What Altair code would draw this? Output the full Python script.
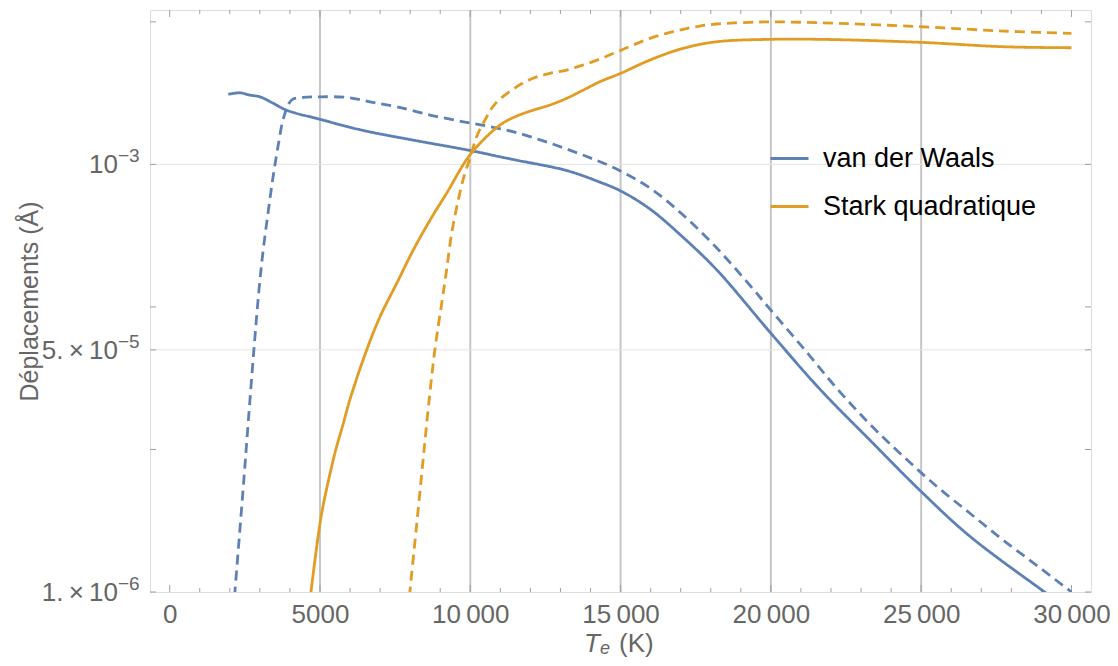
import altair as alt
import pandas as pd

# ---------------- data ----------------
SERIES = ["van der Waals", "Stark quadratique"]
KINDS = ["plein", "tirets"]

# van der Waals, solid
VDW_SOLID_T = [1950, 2340, 2670, 3000, 3450, 3890, 5000, 6440, 8100, 10010, 10990,
               11540, 13210, 14310, 15010, 15980, 17070, 18210, 19970, 21630, 23300,
               24990, 26620, 29120, 30000]
VDW_SOLID_V = [3.10e-3, 3.18e-3, 3.06e-3, 2.98e-3, 2.68e-3, 2.40e-3, 2.07e-3, 1.73e-3,
               1.48e-3, 1.25e-3, 1.13e-3, 1.07e-3, 9.05e-4, 7.51e-4, 6.50e-4, 4.86e-4,
               3.09e-4, 1.81e-4, 6.65e-5, 2.65e-5, 1.16e-5, 5.09e-6, 2.46e-6, 9.95e-7,
               7.32e-7]

# van der Waals, dashed
VDW_DASH_T = [2120, 2170, 2440, 2610, 2800, 2970, 3110, 3270, 3440, 3620, 3800, 4060,
              4440, 5000, 5890, 6660, 7550, 8660, 9770, 10650, 11540, 12650, 13760,
              14870, 15980, 17080, 18200, 19300, 19970, 21080, 22190, 23300, 24400,
              25510, 26620, 27730, 28840, 30000]
VDW_DASH_V = [7.20e-7, 1.00e-6, 5.18e-6, 1.52e-5, 4.97e-5, 1.31e-4, 2.50e-4, 4.53e-4,
              8.18e-4, 1.40e-3, 2.16e-3, 2.83e-3, 2.95e-3, 2.98e-3, 2.95e-3, 2.75e-3,
              2.54e-3, 2.22e-3, 1.99e-3, 1.84e-3, 1.67e-3, 1.41e-3, 1.16e-3, 9.27e-4,
              6.82e-4, 4.41e-4, 2.59e-4, 1.42e-4, 9.65e-5, 5.14e-5, 2.69e-5, 1.50e-5,
              8.97e-6, 5.52e-6, 3.57e-6, 2.31e-6, 1.54e-6, 1.00e-6]

# Stark quadratique, solid
STARK_SOLID_T = [4630, 4700, 5000, 5140, 5360, 5520, 5760, 5990, 6550, 6995, 7550, 8100,
                 8660, 9210, 10010, 10990, 11540, 12090, 12650, 13210, 13760, 14310,
                 15000, 15980, 17080, 18200, 19970, 21630, 24990, 27730, 30000]
STARK_SOLID_V = [7.20e-7, 1.00e-6, 3.02e-6, 4.40e-6, 7.15e-6, 9.88e-6, 1.48e-5, 2.22e-5,
                 4.97e-5, 8.52e-5, 1.46e-4, 2.50e-4, 4.06e-4, 6.26e-4, 1.18e-3, 1.89e-3,
                 2.18e-3, 2.40e-3, 2.61e-3, 2.91e-3, 3.32e-3, 3.80e-3, 4.35e-3, 5.40e-3,
                 6.52e-3, 7.25e-3, 7.54e-3, 7.54e-3, 7.18e-3, 6.69e-3, 6.58e-3]

# Stark quadratique, dashed
STARK_DASH_T = [7930, 7990, 8220, 8440, 8550, 8820, 9050, 9210, 9380, 9600, 9820, 9970,
                10210, 10490, 10820, 11540, 12090, 12650, 13210, 13760, 14310, 14870,
                15420, 15980, 16530, 17080, 17640, 18200, 19300, 19970, 21630, 24990,
                27730, 30000]
STARK_DASH_V = [7.20e-7, 1.00e-6, 3.02e-6, 8.86e-6, 1.52e-5, 4.97e-5, 1.06e-4, 1.81e-4,
                3.28e-4, 5.62e-4, 8.65e-4, 1.07e-3, 1.56e-3, 2.05e-3, 2.65e-3, 3.50e-3,
                4.02e-3, 4.35e-3, 4.59e-3, 4.98e-3, 5.48e-3, 6.14e-3, 6.88e-3, 7.66e-3,
                8.31e-3, 8.86e-3, 9.35e-3, 9.66e-3, 9.92e-3, 1.00e-2, 9.86e-3, 9.24e-3,
                8.62e-3, 8.31e-3]

X_TICKS = [0, 5000, 10000, 15000, 20000, 25000, 30000]
X_MINOR = [1000, 2000, 3000, 4000, 6000, 7000, 8000, 9000, 11000, 12000, 13000, 14000,
           16000, 17000, 18000, 19000, 21000, 22000, 23000, 24000, 26000, 27000, 28000,
           29000]
X_GRID = [5000, 10000, 15000, 20000, 25000]
Y_TICKS = [1e-2, 1e-3, 1e-4, 5e-5, 1e-5, 1e-6]
Y_GRID = [1e-3, 5e-5]
Y_LABEL_V = [1e-6, 5e-5, 1e-3]
Y_LABEL_BASE = ["1.\u2009×\u200910", "5.\u2009×\u200910", "10"]
Y_LABEL_EXP = ["\u22126", "\u22125", "\u22123"]

# ---------------- styling ----------------
BLUE = "#5E81B5"
ORANGE = "#E19C24"
GRAY_TXT = "#666666"
FRAME = "#a0a0a0"
FONT = "Liberation Sans"
W, H = 941, 582

rows = []
for serie, kind, ts, vs in [
    (SERIES[0], KINDS[0], VDW_SOLID_T, VDW_SOLID_V),
    (SERIES[0], KINDS[1], VDW_DASH_T, VDW_DASH_V),
    (SERIES[1], KINDS[0], STARK_SOLID_T, STARK_SOLID_V),
    (SERIES[1], KINDS[1], STARK_DASH_T, STARK_DASH_V),
]:
    for t, v in zip(ts, vs):
        rows.append({"serie": serie, "kind": kind, "T": t, "v": v})
df = pd.DataFrame(rows)

xscale = alt.Scale(domain=[-655, 30650], nice=False, zero=False)
yscale = alt.Scale(type="log", domain=[1e-6, 0.01211], nice=False)

ts_ = "\u2009"
x_label_expr = (
    "datum.value < 10000 ? format(datum.value, 'd') : "
    "format(floor(datum.value / 1000), 'd') + '" + ts_ + "000'"
)

X_AXIS = alt.Axis(
    values=X_TICKS, labelExpr=x_label_expr, ticks=False, domain=False, grid=False,
    labelFontSize=26, labelColor=GRAY_TXT, labelFont=FONT, labelPadding=9, title=None,
)
Y_AXIS = alt.Axis(
    labels=False, ticks=False, domain=False, grid=False,
    title="Déplacements (Å)", titleFontSize=25, titleFont=FONT,
    titleColor=GRAY_TXT, titleFontWeight="normal",
    titleX=-121, titleY=H / 2, titleAlign="center", titleBaseline="middle",
)


def X(field="T:Q"):
    return alt.X(field, scale=xscale, axis=X_AXIS)


def Y(field="v:Q"):
    return alt.Y(field, scale=yscale, axis=Y_AXIS)


vgrid = alt.Chart(pd.DataFrame({"T": X_GRID})).mark_rule(
    color="#c6c6c6", strokeWidth=2
).encode(x=X())

hgrid = alt.Chart(pd.DataFrame({"v": Y_GRID})).mark_rule(
    color="#e4e4e4", strokeWidth=1
).encode(y=Y())


def xtick_layer(values, y0, y1):
    return alt.Chart(pd.DataFrame({"T": values})).mark_rule(color=FRAME, strokeWidth=1).encode(
        x=X(), y=alt.value(y0), y2=alt.value(y1)
    )


xticks = [
    xtick_layer(X_MINOR, H, H - 4),
    xtick_layer(X_TICKS, H, H - 7),
    xtick_layer(X_MINOR, 0, 4),
    xtick_layer(X_TICKS, 0, 7),
]

yt = pd.DataFrame({"v": Y_TICKS})
yticks_left = alt.Chart(yt).mark_rule(color=FRAME, strokeWidth=1).encode(
    y=Y(), x=alt.value(0), x2=alt.value(6)
)
yticks_right = alt.Chart(yt).mark_rule(color=FRAME, strokeWidth=1).encode(
    y=Y(), x=alt.value(W), x2=alt.value(W - 6)
)

lines = alt.Chart(df).mark_line(strokeWidth=2.8, interpolate="catmull-rom", clip=True).encode(
    x=X(),
    y=Y(),
    color=alt.Color(
        "serie:N",
        scale=alt.Scale(domain=SERIES, range=[BLUE, ORANGE]),
        legend=alt.Legend(
            title=None, orient="none", legendX=619, legendY=128, padding=0,
            symbolType="stroke", symbolSize=1444, symbolStrokeWidth=3,
            labelFontSize=27, labelColor="black", labelFont=FONT, labelOffset=13,
            rowPadding=14, labelLimit=400,
        ),
    ),
    strokeDash=alt.StrokeDash(
        "kind:N",
        scale=alt.Scale(domain=KINDS, range=[[1, 0], [10, 6]]),
        legend=None,
    ),
)

ylab = pd.DataFrame({"v": Y_LABEL_V, "base": Y_LABEL_BASE, "exp": Y_LABEL_EXP})
ylab_base = alt.Chart(ylab).mark_text(
    align="right", baseline="middle", fontSize=26, color=GRAY_TXT, font=FONT, dy=1
).encode(x=alt.value(-32), y=Y(), text="base:N")
ylab_exp = alt.Chart(ylab).mark_text(
    align="left", baseline="middle", fontSize=19, color=GRAY_TXT, font=FONT, dy=-8
).encode(x=alt.value(-32), y=Y(), text="exp:N")

xt_T = alt.Chart(pd.DataFrame({"s": ["T"]})).mark_text(
    align="left", baseline="middle", fontSize=26, fontStyle="italic", color=GRAY_TXT, font=FONT
).encode(x=alt.value(434), y=alt.value(634), text="s:N")
xt_e = alt.Chart(pd.DataFrame({"s": ["e"]})).mark_text(
    align="left", baseline="middle", fontSize=18, fontStyle="italic", color=GRAY_TXT, font=FONT
).encode(x=alt.value(450), y=alt.value(639), text="s:N")
xt_K = alt.Chart(pd.DataFrame({"s": ["(K)"]})).mark_text(
    align="left", baseline="middle", fontSize=26, color=GRAY_TXT, font=FONT
).encode(x=alt.value(469), y=alt.value(634), text="s:N")

chart = alt.layer(
    vgrid, hgrid, *xticks, yticks_left, yticks_right,
    lines, ylab_base, ylab_exp, xt_T, xt_e, xt_K,
).properties(
    width=W, height=H,
    autosize=alt.AutoSizeParams(type="none"),
    padding={"left": 142, "top": 2, "right": 19, "bottom": 66},
).configure_view(
    stroke=FRAME, strokeWidth=1.2
).configure(font=FONT)

chart.save("out.html", embed_options={"renderer": "svg", "actions": False})
